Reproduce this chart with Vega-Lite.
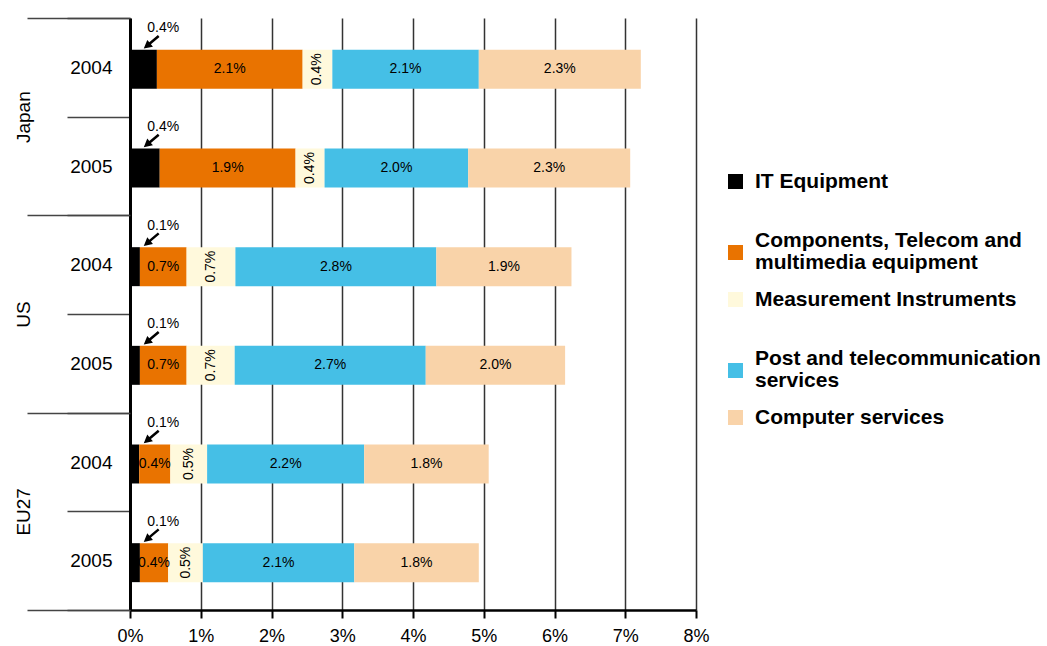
{
  "$schema": "https://vega.github.io/schema/vega-lite/v6.json",
  "autosize": "none",
  "width": 566,
  "height": 592,
  "padding": {"left": 130, "top": 18, "right": 351, "bottom": 36},
  "background": "white",
  "config": {
    "view": {"stroke": null},
    "font": "Liberation Sans, Arial, sans-serif"
  },
  "data": {
    "values": [
      {"country": "Japan", "year": "2004", "category": "IT Equipment", "value": 0.0038},
      {"country": "Japan", "year": "2004", "category": "Components, Telecom and multimedia equipment", "value": 0.0206},
      {"country": "Japan", "year": "2004", "category": "Measurement Instruments", "value": 0.0042},
      {"country": "Japan", "year": "2004", "category": "Post and telecommunication services", "value": 0.0207},
      {"country": "Japan", "year": "2004", "category": "Computer services", "value": 0.0229},
      {"country": "Japan", "year": "2005", "category": "IT Equipment", "value": 0.0042},
      {"country": "Japan", "year": "2005", "category": "Components, Telecom and multimedia equipment", "value": 0.0192},
      {"country": "Japan", "year": "2005", "category": "Measurement Instruments", "value": 0.0041},
      {"country": "Japan", "year": "2005", "category": "Post and telecommunication services", "value": 0.0203},
      {"country": "Japan", "year": "2005", "category": "Computer services", "value": 0.0229},
      {"country": "US", "year": "2004", "category": "IT Equipment", "value": 0.0014},
      {"country": "US", "year": "2004", "category": "Components, Telecom and multimedia equipment", "value": 0.0066},
      {"country": "US", "year": "2004", "category": "Measurement Instruments", "value": 0.0069},
      {"country": "US", "year": "2004", "category": "Post and telecommunication services", "value": 0.0284},
      {"country": "US", "year": "2004", "category": "Computer services", "value": 0.0191},
      {"country": "US", "year": "2005", "category": "IT Equipment", "value": 0.0014},
      {"country": "US", "year": "2005", "category": "Components, Telecom and multimedia equipment", "value": 0.0066},
      {"country": "US", "year": "2005", "category": "Measurement Instruments", "value": 0.0068},
      {"country": "US", "year": "2005", "category": "Post and telecommunication services", "value": 0.0270},
      {"country": "US", "year": "2005", "category": "Computer services", "value": 0.0197},
      {"country": "EU27", "year": "2004", "category": "IT Equipment", "value": 0.0013},
      {"country": "EU27", "year": "2004", "category": "Components, Telecom and multimedia equipment", "value": 0.0044},
      {"country": "EU27", "year": "2004", "category": "Measurement Instruments", "value": 0.0052},
      {"country": "EU27", "year": "2004", "category": "Post and telecommunication services", "value": 0.0222},
      {"country": "EU27", "year": "2004", "category": "Computer services", "value": 0.0176},
      {"country": "EU27", "year": "2005", "category": "IT Equipment", "value": 0.0014},
      {"country": "EU27", "year": "2005", "category": "Components, Telecom and multimedia equipment", "value": 0.0040},
      {"country": "EU27", "year": "2005", "category": "Measurement Instruments", "value": 0.0049},
      {"country": "EU27", "year": "2005", "category": "Post and telecommunication services", "value": 0.0214},
      {"country": "EU27", "year": "2005", "category": "Computer services", "value": 0.0176}
    ]
  },
  "transform": [
    {"calculate": "datum.country + ' ' + datum.year", "as": "row"},
    {"calculate": "indexof(['IT Equipment', 'Components, Telecom and multimedia equipment', 'Measurement Instruments', 'Post and telecommunication services', 'Computer services'], datum.category)", "as": "catOrder"}
  ],
  "layer": [
    {
      "layer": [
        {
          "mark": {"type": "bar", "height": {"band": 0.395}, "yOffset": 2},
          "encoding": {
            "y": {
              "field": "row", "type": "nominal", "sort": null,
              "scale": {"paddingInner": 0, "paddingOuter": 0},
              "axis": {
                "orient": "left", "title": null, "grid": false,
                "tickBand": "extent", "tickSize": 63, "tickWidth": 1.5, "tickColor": "#444",
                "domain": true, "domainColor": "#000", "domainWidth": 3,
                "labelExpr": "slice(datum.label, -4)",
                "labelFontSize": 19, "labelColor": "#000", "labelPadding": -45
              }
            },
            "x": {
              "field": "value", "type": "quantitative", "stack": "zero",
              "scale": {"domain": [0, 0.08], "nice": false},
              "axis": {
                "title": null, "format": ".0%",
                "values": [0, 0.01, 0.02, 0.03, 0.04, 0.05, 0.06, 0.07, 0.08],
                "grid": true, "gridColor": "#333", "gridWidth": 1.5,
                "domainColor": "#000", "domainWidth": 2.5,
                "tickSize": 8, "tickWidth": 2, "tickColor": "#000",
                "labelFlush": false, "labelOverlap": false,
                "labelFontSize": 18, "labelColor": "#000", "labelPadding": 9
              }
            },
            "color": {
              "field": "category", "type": "nominal",
              "scale": {
                "domain": ["IT Equipment", "Components, Telecom and multimedia equipment", "Measurement Instruments", "Post and telecommunication services", "Computer services"],
                "range": ["#000000", "#E97300", "#FFF9DC", "#45BFE6", "#F9D3A9"]
              },
              "legend": {
                "orient": "none", "legendX": 595, "legendY": 153,
                "title": null, "padding": 0,
                "symbolType": "square", "symbolSize": 225, "symbolStrokeWidth": 0, "symbolOpacity": 1,
                "labelFont": "Liberation Sans, Arial, sans-serif", "labelFontWeight": "bold",
                "labelFontSize": 21, "labelColor": "#000", "labelOffset": 9, "labelLimit": 400,
                "rowPadding": 15, "gridAlign": "all",
                "labelExpr": "datum.label == 'Components, Telecom and multimedia equipment' ? ['Components, Telecom and', 'multimedia equipment'] : datum.label == 'Post and telecommunication services' ? ['Post and telecommunication', 'services'] : datum.label",
                "encode": {
                  "labels": {
                    "update": {"lineHeight": {"value": 22}}
                  },
                  "symbols": {
                    "update": {
                      "shape": {"signal": "datum.value == 'Components, Telecom and multimedia equipment' || datum.value == 'Post and telecommunication services' ? 'M-1,0.6H1V2.6H-1Z' : 'square'"}
                    }
                  }
                }
              }
            },
            "order": {"field": "catOrder", "type": "quantitative"}
          }
        },
        {
          "mark": {"type": "text", "fontSize": 14, "color": "#000", "align": "center", "baseline": "middle", "yOffset": 2},
          "encoding": {
            "y": {"field": "row", "type": "nominal", "sort": null},
            "x": {"field": "value", "type": "quantitative", "stack": "zero", "bandPosition": 0.5},
            "detail": {"field": "category"},
            "order": {"field": "catOrder", "type": "quantitative"},
            "angle": {"condition": {"test": "datum.category == 'Measurement Instruments'", "value": 270}, "value": 0},
            "text": {"condition": {"test": "datum.category == 'IT Equipment'", "value": ""}, "field": "value", "type": "quantitative", "format": ".1%"}
          }
        },
        {
          "transform": [{"filter": "datum.category == 'IT Equipment'"}],
          "mark": {"type": "text", "fontSize": 14, "color": "#000", "align": "center", "baseline": "middle", "yOffset": -39},
          "encoding": {
            "y": {"field": "row", "type": "nominal", "sort": null},
            "x": {"datum": 0.0047, "type": "quantitative"},
            "text": {"field": "value", "type": "quantitative", "format": ".1%"}
          }
        },
        {
          "transform": [{"filter": "datum.category == 'IT Equipment'"}],
          "mark": {
            "type": "point", "filled": true, "opacity": 1, "color": "#000", "strokeWidth": 0,
            "shape": "M-1,-0.13L0.15,-0.13L0.15,-0.45L1,0L0.15,0.45L0.15,0.13L-1,0.13Z",
            "size": 380, "angle": 140, "yOffset": -25
          },
          "encoding": {
            "y": {"field": "row", "type": "nominal", "sort": null},
            "x": {"datum": 0.003, "type": "quantitative"}
          }
        }
      ]
    },
    {
      "mark": {"type": "point", "opacity": 0},
      "encoding": {
        "y": {
          "field": "country", "type": "nominal",
          "scale": {"domain": ["Japan", "US", "EU27"], "paddingInner": 0, "paddingOuter": 0},
          "axis": {
            "orient": "left", "title": null, "grid": false, "domain": false,
            "tickBand": "extent", "tickSize": 103, "tickWidth": 1.5, "tickColor": "#444",
            "labelAngle": 270, "labelAlign": "center", "labelBaseline": "middle",
            "labelFontSize": 19, "labelColor": "#000", "labelPadding": 4
          }
        },
        "x": {"datum": 0, "type": "quantitative"}
      }
    }
  ],
  "resolve": {"scale": {"y": "independent"}, "axis": {"y": "independent"}}
}
